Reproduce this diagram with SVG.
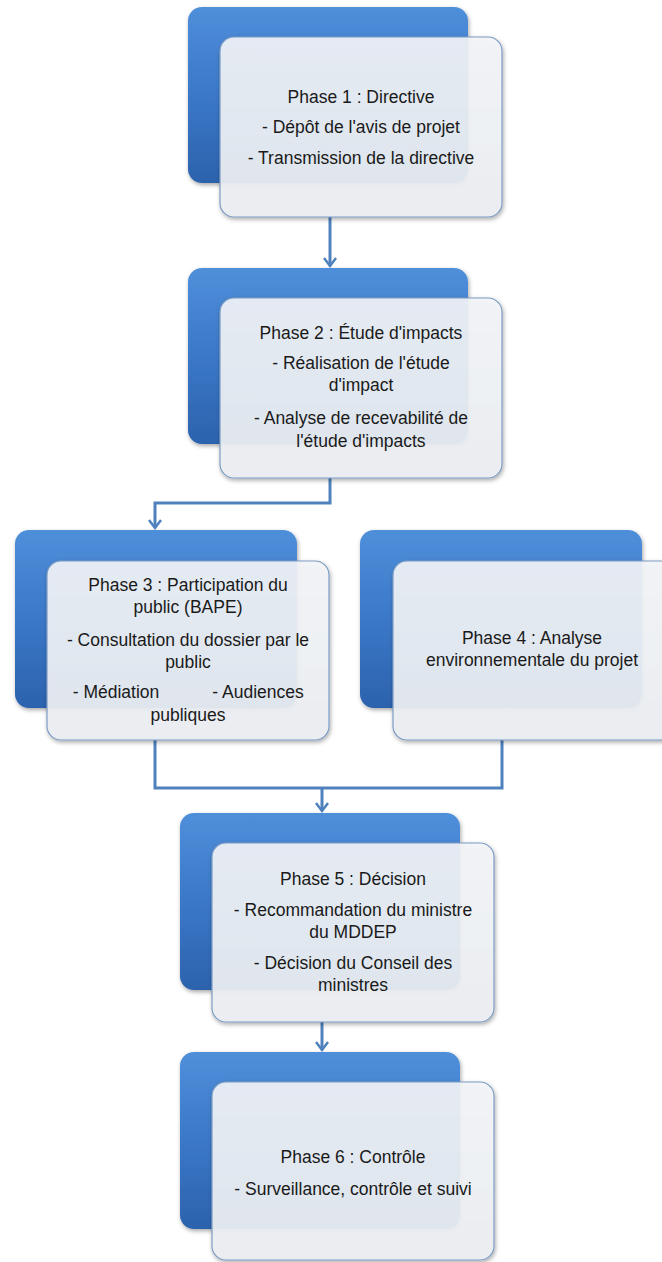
<svg xmlns="http://www.w3.org/2000/svg" width="662" height="1262" viewBox="0 0 662 1262">
<style>
.b{fill:url(#gb);filter:url(#sh)}
.w{fill:url(#gw);stroke:#7d9cc4;stroke-width:1.2;filter:url(#sh)}
.t{font-family:"Liberation Sans",Arial,sans-serif;font-size:17.5px;fill:#1a1a1a;text-anchor:middle}
.c{fill:none;stroke:#4f81bd;stroke-width:3}
</style>
<defs>
<linearGradient id="gb" x1="0" y1="0" x2="0" y2="1">
<stop offset="0" stop-color="#4f8fda"/>
<stop offset="0.5" stop-color="#3b78c8"/>
<stop offset="1" stop-color="#2c62ad"/>
</linearGradient>
<linearGradient id="gw" x1="0" y1="0" x2="0" y2="1">
<stop offset="0" stop-color="#f4f6f9" stop-opacity="0.9"/>
<stop offset="1" stop-color="#eceff3" stop-opacity="0.92"/>
</linearGradient>
<filter id="sh" x="-10%" y="-10%" width="125%" height="125%">
<feDropShadow dx="1" dy="2" stdDeviation="2" flood-color="#000" flood-opacity="0.35"/>
</filter>
<marker id="ar" viewBox="0 0 14 14" refX="11" refY="7" markerWidth="14" markerHeight="14" markerUnits="userSpaceOnUse" orient="auto">
<path d="M3,1 L11,7 L3,13" fill="none" stroke="#4f81bd" stroke-width="2.5"/>
</marker>
</defs>
<rect width="662" height="1262" fill="#ffffff"/>
<g id="connectors">
<path class="c" d="M330,217 V266" marker-end="url(#ar)"/>
<path class="c" d="M330,478 V503 H155 V528" marker-end="url(#ar)"/>
<path class="c" d="M155,740 V788 H502 V740"/>
<path class="c" d="M322,788 V811" marker-end="url(#ar)"/>
<path class="c" d="M322,1022 V1050" marker-end="url(#ar)"/>
</g>
<g id="phase1">
<rect class="b" x="188" y="7" width="280" height="176" rx="14"/>
<rect class="w" x="220" y="37" width="282" height="180" rx="14"/>
<text class="t" x="361" y="103">Phase 1 : Directive</text>
<text class="t" x="361" y="133">- Dépôt de l'avis de projet</text>
<text class="t" x="361" y="164">- Transmission de la directive</text>
</g>
<g id="phase2">
<rect class="b" x="188" y="268" width="280" height="176" rx="14"/>
<rect class="w" x="220" y="298" width="282" height="180" rx="14"/>
<text class="t" x="361" y="339">Phase 2 : Étude d'impacts</text>
<text class="t" x="361" y="369">- Réalisation de l'étude</text>
<text class="t" x="361" y="391">d'impact</text>
<text class="t" x="361" y="424">- Analyse de recevabilité de</text>
<text class="t" x="361" y="447">l'étude d'impacts</text>
</g>
<g id="phase3">
<rect class="b" x="15" y="530" width="282" height="178" rx="14"/>
<rect class="w" x="47" y="561" width="282" height="179" rx="14"/>
<text class="t" x="188" y="591">Phase 3 : Participation du</text>
<text class="t" x="188" y="613">public (BAPE)</text>
<text class="t" x="188" y="646">- Consultation du dossier par le</text>
<text class="t" x="188" y="668">public</text>
<text class="t" y="698"><tspan x="116">- Médiation</tspan><tspan x="258">- Audiences</tspan></text>
<text class="t" x="188" y="721">publiques</text>
</g>
<g id="phase4">
<rect class="b" x="360" y="530" width="282" height="178" rx="14"/>
<rect class="w" x="393" y="561" width="282" height="179" rx="14"/>
<text class="t" x="532" y="644">Phase 4 : Analyse</text>
<text class="t" x="532" y="666">environnementale du projet</text>
</g>
<g id="phase5">
<rect class="b" x="180" y="813" width="280" height="177" rx="14"/>
<rect class="w" x="212" y="843" width="282" height="179" rx="14"/>
<text class="t" x="353" y="885">Phase 5 : Décision</text>
<text class="t" x="353" y="916">- Recommandation du ministre</text>
<text class="t" x="353" y="938">du MDDEP</text>
<text class="t" x="353" y="969">- Décision du Conseil des</text>
<text class="t" x="353" y="991">ministres</text>
</g>
<g id="phase6">
<rect class="b" x="180" y="1052" width="280" height="177" rx="14"/>
<rect class="w" x="212" y="1082" width="282" height="178" rx="14"/>
<text class="t" x="353" y="1163">Phase 6 : Contrôle</text>
<text class="t" x="353" y="1195">- Surveillance, contrôle et suivi</text>
</g>
</svg>
